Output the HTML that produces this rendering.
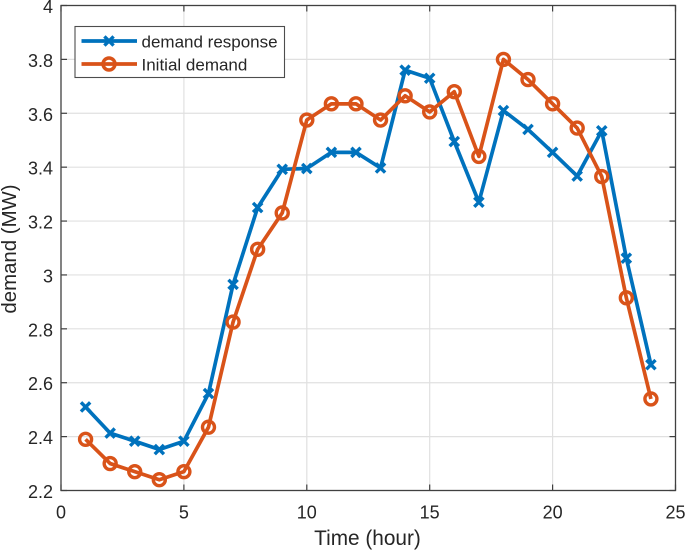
<!DOCTYPE html>
<html>
<head>
<meta charset="utf-8">
<style>
html,body{margin:0;padding:0;background:#fff;width:685px;height:550px;overflow:hidden}
svg{display:block;font-family:"Liberation Sans",Arial,sans-serif}
</style>
</head>
<body>
<svg id="chart" xmlns="http://www.w3.org/2000/svg" width="685" height="550" viewBox="0 0 685 550"></svg>
<script>
const hours = [1,2,3,4,5,6,7,8,9,10,11,12,13,14,15,16,17,18,19,20,21,22,23,24];
const demandResponse = [2.51,2.413,2.383,2.352,2.383,2.56,2.965,3.25,3.392,3.395,3.455,3.455,3.397,3.76,3.73,3.495,3.27,3.61,3.54,3.455,3.367,3.535,3.062,2.667];
const initialDemand = [2.39,2.30,2.27,2.24,2.27,2.435,2.825,3.095,3.23,3.575,3.635,3.635,3.575,3.665,3.605,3.68,3.44,3.80,3.725,3.635,3.545,3.365,2.915,2.54];
const xTicks = [0,5,10,15,20,25];
const yTicks = [2.2,2.4,2.6,2.8,3,3.2,3.4,3.6,3.8,4];
const xDomain = [0,25];
const yDomain = [2.2,4];

const plot = {left:61, right:675.5, top:5.5, bottom:490.5};
const sx = v => plot.left + (v - xDomain[0]) / (xDomain[1] - xDomain[0]) * (plot.right - plot.left);
const sy = v => plot.bottom - (v - yDomain[0]) / (yDomain[1] - yDomain[0]) * (plot.bottom - plot.top);
const svg = document.getElementById('chart');
const NS = 'http://www.w3.org/2000/svg';
function mk(tag, attrs, parent, text) {
  const el = document.createElementNS(NS, tag);
  for (const k in attrs) el.setAttribute(k, attrs[k]);
  if (text !== undefined) el.textContent = text;
  (parent || svg).appendChild(el);
  return el;
}
const BLUE = '#0072bd', ORANGE = '#d95319', AXIS = '#404040', GRID = '#e0e0e0';

// grid
const grid = mk('g', {}, svg);


xTicks.slice(1, -1).forEach(t => {
  const l = mk('line', {x1:sx(t), x2:sx(t), y1:plot.top, y2:plot.bottom, stroke:GRID, 'stroke-width':1.2}, grid);
  
  
});
yTicks.slice(1, -1).forEach(t => {
  const l = mk('line', {x1:plot.left, x2:plot.right, y1:sy(t), y2:sy(t), stroke:GRID, 'stroke-width':1.2}, grid);
  
  
});

// axes box
const box = mk('rect', {x:plot.left, y:plot.top, width:plot.right-plot.left, height:plot.bottom-plot.top, fill:'none', stroke:AXIS, 'stroke-width':1.3}, svg);



// ticks and labels
xTicks.forEach(t => {
  const x = sx(t);
  const a = mk('line', {x1:x, x2:x, y1:plot.bottom, y2:plot.bottom-6, stroke:AXIS, 'stroke-width':1.2});
  
  
  const b = mk('line', {x1:x, x2:x, y1:plot.top, y2:plot.top+6, stroke:AXIS, 'stroke-width':1.2});
  
  
  const lab = mk('text', {x:x, y:518.5, 'text-anchor':'middle', 'font-size':18, fill:'#262626'}, svg, String(t));
  
  
});
yTicks.forEach(t => {
  const y = sy(t);
  const a = mk('line', {x1:plot.left, x2:plot.left+6, y1:y, y2:y, stroke:AXIS, 'stroke-width':1.2});
  
  
  const b = mk('line', {x1:plot.right, x2:plot.right-6, y1:y, y2:y, stroke:AXIS, 'stroke-width':1.2});
  
  
  const lab = mk('text', {x:53, y:y+7.5, 'text-anchor':'end', 'font-size':18, fill:'#262626'}, svg, String(t));
  
  
});

// axis titles
const xTitle = mk('text', {x:367.5, y:545, 'text-anchor':'middle', 'font-size':20.8, fill:'#262626'}, svg, 'Time (hour)');


const yTitle = mk('text', {x:0, y:0, transform:'translate(16 249) rotate(-90)', 'text-anchor':'middle', 'font-size':20.4, fill:'#262626'}, svg, 'demand (MW)');



function crossMarker(parent, x, y, color) {
  const r = 4.6;
  mk('path', {d:`M${x-r} ${y-r}L${x+r} ${y+r}M${x-r} ${y+r}L${x+r} ${y-r}`, stroke:color, 'stroke-width':3.4, fill:'none'}, parent);
}
function circleMarker(parent, x, y, color) {
  mk('circle', {cx:x, cy:y, r:6, stroke:color, 'stroke-width':3.4, fill:'none'}, parent);
}
function drawSeries(values, color, marker, name) {
  const g = mk('g', {}, svg);
  
  
  const pts = values.map((v, i) => sx(hours[i]).toFixed(2) + ',' + sy(v).toFixed(2)).join(' ');
  mk('polyline', {points:pts, fill:'none', stroke:color, 'stroke-width':3.7, 'stroke-linejoin':'round'}, g);
  values.forEach((v, i) => marker(g, sx(hours[i]), sy(v), color));
}
drawSeries(demandResponse, BLUE, crossMarker, 'demand-response-series');
drawSeries(initialDemand, ORANGE, circleMarker, 'initial-demand-series');

// legend
const legend = mk('g', {}, svg);


mk('rect', {x:75, y:26.5, width:209.5, height:51, fill:'#fff', stroke:'#4d4d4d', 'stroke-width':1.1}, legend);
mk('line', {x1:81.5, x2:137, y1:41, y2:41, stroke:BLUE, 'stroke-width':3.7}, legend);
crossMarker(legend, 109, 41, BLUE);
const le1 = mk('text', {x:141.5, y:47.5, 'font-size':17, fill:'#262626'}, legend, 'demand response');


mk('line', {x1:81.5, x2:137, y1:64, y2:64, stroke:ORANGE, 'stroke-width':3.7}, legend);
circleMarker(legend, 109, 64, ORANGE);
const le2 = mk('text', {x:141.5, y:70.5, 'font-size':17, fill:'#262626'}, legend, 'Initial demand');


</script>
</body>
</html>
